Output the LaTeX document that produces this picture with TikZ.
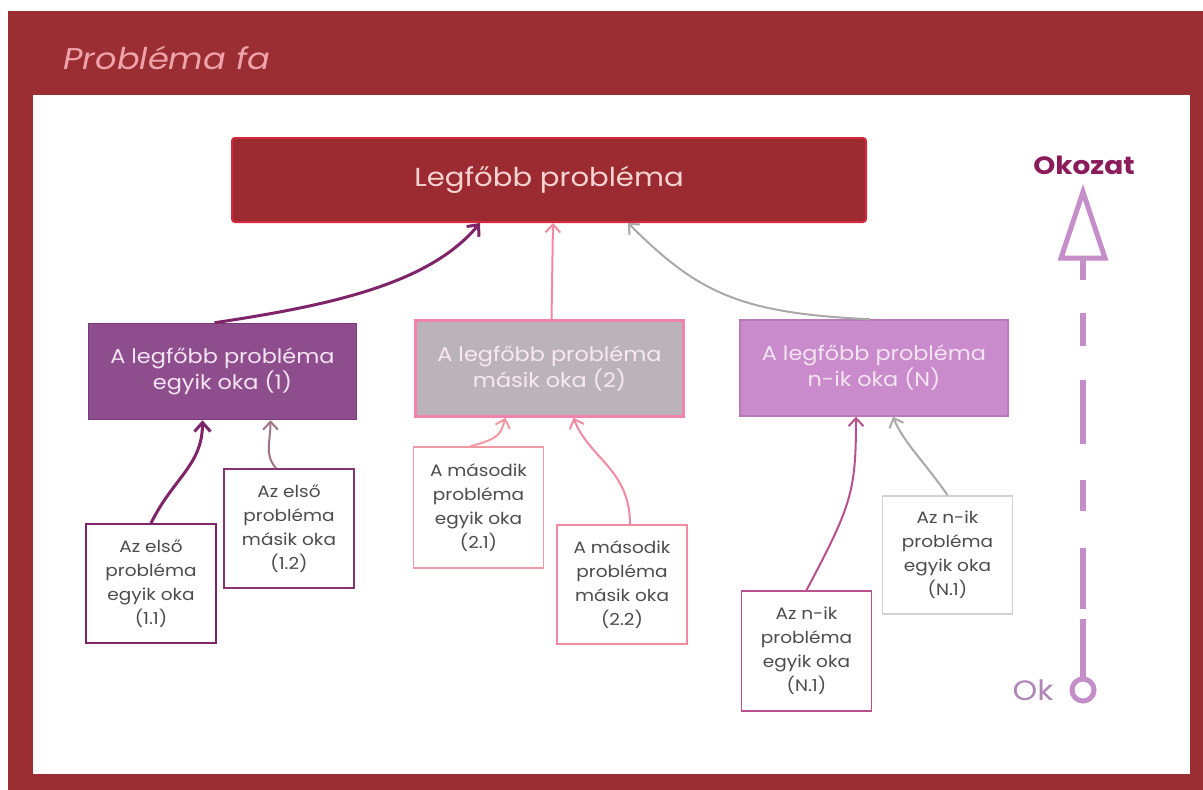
\documentclass[tikz,border=0pt]{standalone}
\usepackage{fontspec}
\setmainfont[FakeStretch=1.12]{Poppins}
\usetikzlibrary{arrows.meta}

\definecolor{framered}{HTML}{9A2E32}
\definecolor{titlepink}{HTML}{EFA3AA}
\definecolor{topfill}{HTML}{9B2B30}
\definecolor{topedge}{HTML}{D4283C}
\definecolor{toptext}{HTML}{F6D2D2}
\definecolor{onefill}{HTML}{8E4E8E}
\definecolor{oneedge}{HTML}{7A3A78}
\definecolor{twofill}{HTML}{BAB4B9}
\definecolor{twoedge}{HTML}{F283AC}
\definecolor{twotext}{HTML}{FAE8F0}
\definecolor{nfill}{HTML}{C98BCB}
\definecolor{nedge}{HTML}{B87AB8}
\definecolor{midtext}{HTML}{F4E4F2}
\definecolor{smalltext}{HTML}{4C4C4C}
\definecolor{plum}{HTML}{7E2468}
\definecolor{mauve}{HTML}{A07585}
\definecolor{salmon}{HTML}{F09AA4}
\definecolor{rosy}{HTML}{F28AA2}
\definecolor{orchid}{HTML}{B9508E}
\definecolor{silver}{HTML}{A9A9A9}
\definecolor{lightgrey}{HTML}{D2D2D2}
\definecolor{lav}{HTML}{C48EC9}
\definecolor{oktext}{HTML}{AF86B6}
\definecolor{effect}{HTML}{8A1C5C}

\tikzset{
  midbox/.style={minimum width=268pt, minimum height=96pt, align=center,
    font=\fontsize{20}{26}\selectfont, text=midtext, line width=1.5pt},
  smallbox/.style={draw, fill=white, minimum width=130pt, minimum height=119pt,
    align=center, font=\fontsize{16.5}{24}\selectfont, text=smalltext, line width=1.6pt},
  link/.style={line width=2pt, -{Straight Barb[length=8pt,width=15pt,line width=2pt]}},
  thick link/.style={line width=3pt, -{Straight Barb[length=9pt,width=16pt,line width=3pt]}}
}

\begin{document}
\begin{tikzpicture}[x=1pt, y=-1pt]
  \useasboundingbox (0,0) rectangle (1203,790);
  % frame and white panel
  \fill[framered] (8,11) rectangle (1203,790);
  \fill[white] (33,95) rectangle (1190,774);
  \node[text=titlepink, font=\itshape\fontsize{30}{32}\selectfont, anchor=west]
    (title) at (60,58) {Probléma fa};

  % main problem
  \node[draw=topedge, fill=topfill, line width=2pt, rounded corners=3pt,
    minimum width=634pt, minimum height=84pt, text=toptext,
    font=\fontsize{26}{30}\selectfont] (top) at (549,180) {Legfőbb probléma};

  % first-level causes
  \node[midbox, draw=oneedge, fill=onefill] (c1) at (222.5,371.5)
    {A legfőbb probléma\\egyik oka (1)};
  \node[midbox, draw=twoedge, fill=twofill, text=twotext, line width=2.5pt] (c2) at (549.5,368.5)
    {A legfőbb probléma\\másik oka (2)};
  \node[midbox, draw=nedge, fill=nfill] (cn) at (874,368)
    {A legfőbb probléma\\n-ik oka (N)};

  % second-level causes
  \node[smallbox, draw=plum] (c11) at (151,583.5)
    {Az első\\probléma\\egyik oka\\(1.1)};
  \node[smallbox, draw=plum!80!mauve] (c12) at (289,528.5)
    {Az első\\probléma\\másik oka\\(1.2)};
  \node[smallbox, draw=salmon, minimum height=121pt] (c21) at (478.5,507.5)
    {A második\\probléma\\egyik oka\\(2.1)};
  \node[smallbox, draw=rosy] (c22) at (622,584.5)
    {A második\\probléma\\másik oka\\(2.2)};
  \node[smallbox, draw=orchid, minimum height=120pt] (cn1) at (806.5,651)
    {Az n-ik\\probléma\\egyik oka\\(N.1)};
  \node[smallbox, draw=lightgrey, minimum height=118pt] (cn2) at (947.5,555)
    {Az n-ik\\probléma\\egyik oka\\(N.1)};

  % links to the main problem
  \draw[thick link, plum] ([xshift=-8pt]c1.north)
    .. controls +(120,-18) and +(-50,60) .. ([xshift=-69pt]top.south);
  \draw[link, rosy] ([xshift=2pt]c2.north) -- ([xshift=4pt]top.south);
  \draw[link, silver] ([xshift=-4pt]cn.north)
    .. controls +(-130,-6) and +(70,70) .. ([xshift=79pt]top.south);

  % links to the first-level causes
  \draw[thick link, plum] (c11.north)
    .. controls +(22,-45) and +(0,45) .. ([xshift=-20pt]c1.south);
  \draw[link, mauve] ([xshift=-13pt]c12.north)
    .. controls +(-12,-14) and +(0,22) .. ([xshift=48pt]c1.south);
  \draw[link, salmon] ([xshift=-8pt]c21.north)
    .. controls +(30,-8) and +(-5,16) .. ([xshift=-44pt]c2.south);
  \draw[link, rosy] ([xshift=8pt]c22.north)
    .. controls +(0,-55) and +(15,40) .. ([xshift=24pt]c2.south);
  \draw[link, orchid] (cn1.north)
    .. controls +(45,-85) and +(0,75) .. ([xshift=-18pt]cn.south);
  \draw[link, silver] (cn2.north)
    .. controls +(-22,-32) and +(10,25) .. ([xshift=19pt]cn.south);

  % cause -> effect indicator
  \node[text=effect, font=\bfseries\fontsize{25}{28}\selectfont] (okozat) at (1084,165) {Okozat};
  \node[text=oktext, font=\fontsize{28}{30}\selectfont] (ok) at (1033,690) {Ok};
  \node[circle, draw=lav, line width=5pt, minimum size=22pt, inner sep=0pt] (okdot) at (1083,690) {};
  \coordinate (apex) at (1083,192);
  \coordinate (base) at (1083,258);
  \draw[lav, line width=5pt, line join=miter]
    (apex) -- (1061,258) -- (1105,258) -- cycle;
  \draw[lav, line width=6.5pt,
    dash pattern=on 22pt off 33pt on 33pt off 34pt on 64pt off 36pt on 31pt off 37pt on 61pt off 10pt on 80pt]
    (base) -- (okdot.north);
\end{tikzpicture}
\end{document}
